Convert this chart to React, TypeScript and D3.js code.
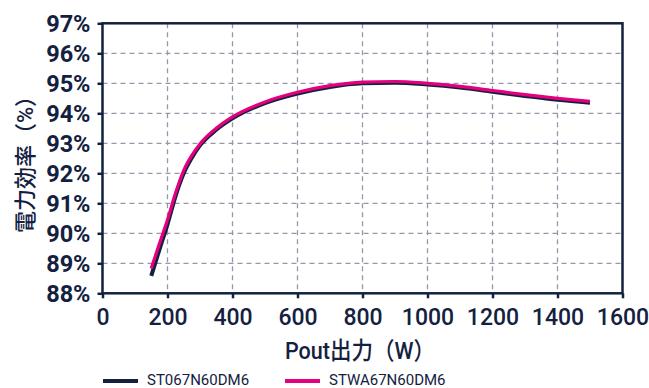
import React, { useEffect, useRef } from 'react'
import * as d3 from 'd3'

// output power (W)
const powerW = [150, 175, 200, 225, 250, 275, 300, 350, 400, 500, 600, 700, 800, 900, 1000, 1100, 1200, 1300, 1400, 1500]
// efficiency (%) per part
const effST067 = [88.58, 89.45, 90.3, 91.25, 92.0, 92.52, 92.93, 93.45, 93.83, 94.34, 94.66, 94.88, 95.0, 95.02, 94.96, 94.86, 94.72, 94.58, 94.45, 94.35]
const effSTWA67 = [88.83, 89.65, 90.45, 91.35, 92.1, 92.6, 92.98, 93.5, 93.88, 94.38, 94.7, 94.92, 95.04, 95.06, 95.0, 94.9, 94.76, 94.62, 94.5, 94.4]
const seriesNames = ['ST067N60DM6', 'STWA67N60DM6']
const xTicks = [0, 200, 400, 600, 800, 1000, 1200, 1400, 1600]
const yTicks = [88, 89, 90, 91, 92, 93, 94, 95, 96, 97]

const NAVY = '#13213f'
const PINK = '#e4007f'
const GRID = '#9896ab'
const FONT = 'Roboto, "Noto Sans CJK JP", sans-serif'

const W = 649
const H = 388
const margin = { left: 102.5, right: 26.5, top: 23.3, bottom: 94.7 }

export default function App() {
  const ref = useRef<SVGSVGElement>(null)

  useEffect(() => {
    const svg = d3.select(ref.current)
    svg.selectAll('*').remove()
    const width = W - margin.left - margin.right
    const height = H - margin.top - margin.bottom

    const x = d3.scaleLinear().domain([0, 1600]).range([0, width])
    const y = d3.scaleLinear().domain([88, 97]).range([height, 0])

    const g = svg.append('g').attr('transform', `translate(${margin.left}, ${margin.top})`)

    // grid
    g.selectAll('.vgrid')
      .data(xTicks.filter(d => d > 0 && d < 1600))
      .enter().append('line')
      .attr('x1', d => x(d)).attr('x2', d => x(d))
      .attr('y1', 0).attr('y2', height)
      .attr('stroke', GRID).attr('stroke-width', 1.3).attr('stroke-dasharray', '5,4')
    g.selectAll('.hgrid')
      .data(yTicks.filter(d => d > 88 && d < 97))
      .enter().append('line')
      .attr('x1', 0).attr('x2', width)
      .attr('y1', d => y(d)).attr('y2', d => y(d))
      .attr('stroke', GRID).attr('stroke-width', 1.3).attr('stroke-dasharray', '5,4')

    // lines
    const line = d3.line<[number, number]>()
      .x(d => x(d[0]))
      .y(d => y(d[1]))
      .curve(d3.curveMonotoneX)

    g.append('path')
      .datum(powerW.map((p, i) => [p, effST067[i]] as [number, number]))
      .attr('fill', 'none').attr('stroke', NAVY).attr('stroke-width', 4)
      .attr('d', line)
    g.append('path')
      .datum(powerW.map((p, i) => [p, effSTWA67[i]] as [number, number]))
      .attr('fill', 'none').attr('stroke', PINK).attr('stroke-width', 3.2)
      .attr('d', line)

    // frame
    g.append('rect')
      .attr('x', 0).attr('y', 0).attr('width', width).attr('height', height)
      .attr('fill', 'none').attr('stroke', NAVY).attr('stroke-width', 2.5)

    // y axis
    const yAxis = g.append('g').call(d3.axisLeft(y).tickValues(yTicks).tickSize(5).tickPadding(7).tickFormat(d => `${d}%`))
    yAxis.select('.domain').remove()
    yAxis.selectAll('line').attr('stroke', NAVY).attr('stroke-width', 2.5)
    yAxis.selectAll('text')
      .attr('fill', NAVY).attr('font-family', FONT).attr('font-size', '23.5px').attr('font-weight', 700)
      .attr('dy', '0.36em')

    // x axis
    const xAxis = g.append('g')
      .attr('transform', `translate(0, ${height})`)
      .call(d3.axisBottom(x).tickValues(xTicks).tickSize(5).tickPadding(10).tickFormat(d => String(d)))
    xAxis.select('.domain').remove()
    xAxis.selectAll('line').attr('stroke', NAVY).attr('stroke-width', 2.5)
    xAxis.selectAll('text')
      .attr('fill', NAVY).attr('font-family', FONT).attr('font-size', '23px').attr('font-weight', 500)

    // axis titles
    svg.append('text')
      .attr('x', 360).attr('y', 359)
      .attr('text-anchor', 'middle')
      .attr('textLength', 150).attr('lengthAdjust', 'spacingAndGlyphs')
      .attr('fill', NAVY).attr('font-family', FONT).attr('font-size', '24px').attr('font-weight', 500)
      .text('Pout出力（W）')

    svg.append('text')
      .attr('transform', 'translate(33, 159) rotate(-90)')
      .attr('text-anchor', 'middle')
      .attr('fill', NAVY).attr('font-family', FONT).attr('font-size', '22px').attr('font-weight', 500)
      .text('電力効率（%）')

    // legend
    const legend = svg.append('g')
    const legendX = [103, 285]
    const colors = [NAVY, PINK]
    seriesNames.forEach((name, i) => {
      legend.append('line')
        .attr('x1', legendX[i]).attr('x2', legendX[i] + 35)
        .attr('y1', 381).attr('y2', 381)
        .attr('stroke', colors[i]).attr('stroke-width', 4)
      legend.append('text')
        .attr('x', legendX[i] + 44).attr('y', 384.5)
        .attr('fill', NAVY).attr('font-family', FONT).attr('font-size', '15px')
        .text(name)
    })
  }, [])

  return (
    <svg ref={ref} width={W} height={H}
      style={{ position: 'absolute', left: 0, top: 0, background: '#fff' }} />
  )
}
